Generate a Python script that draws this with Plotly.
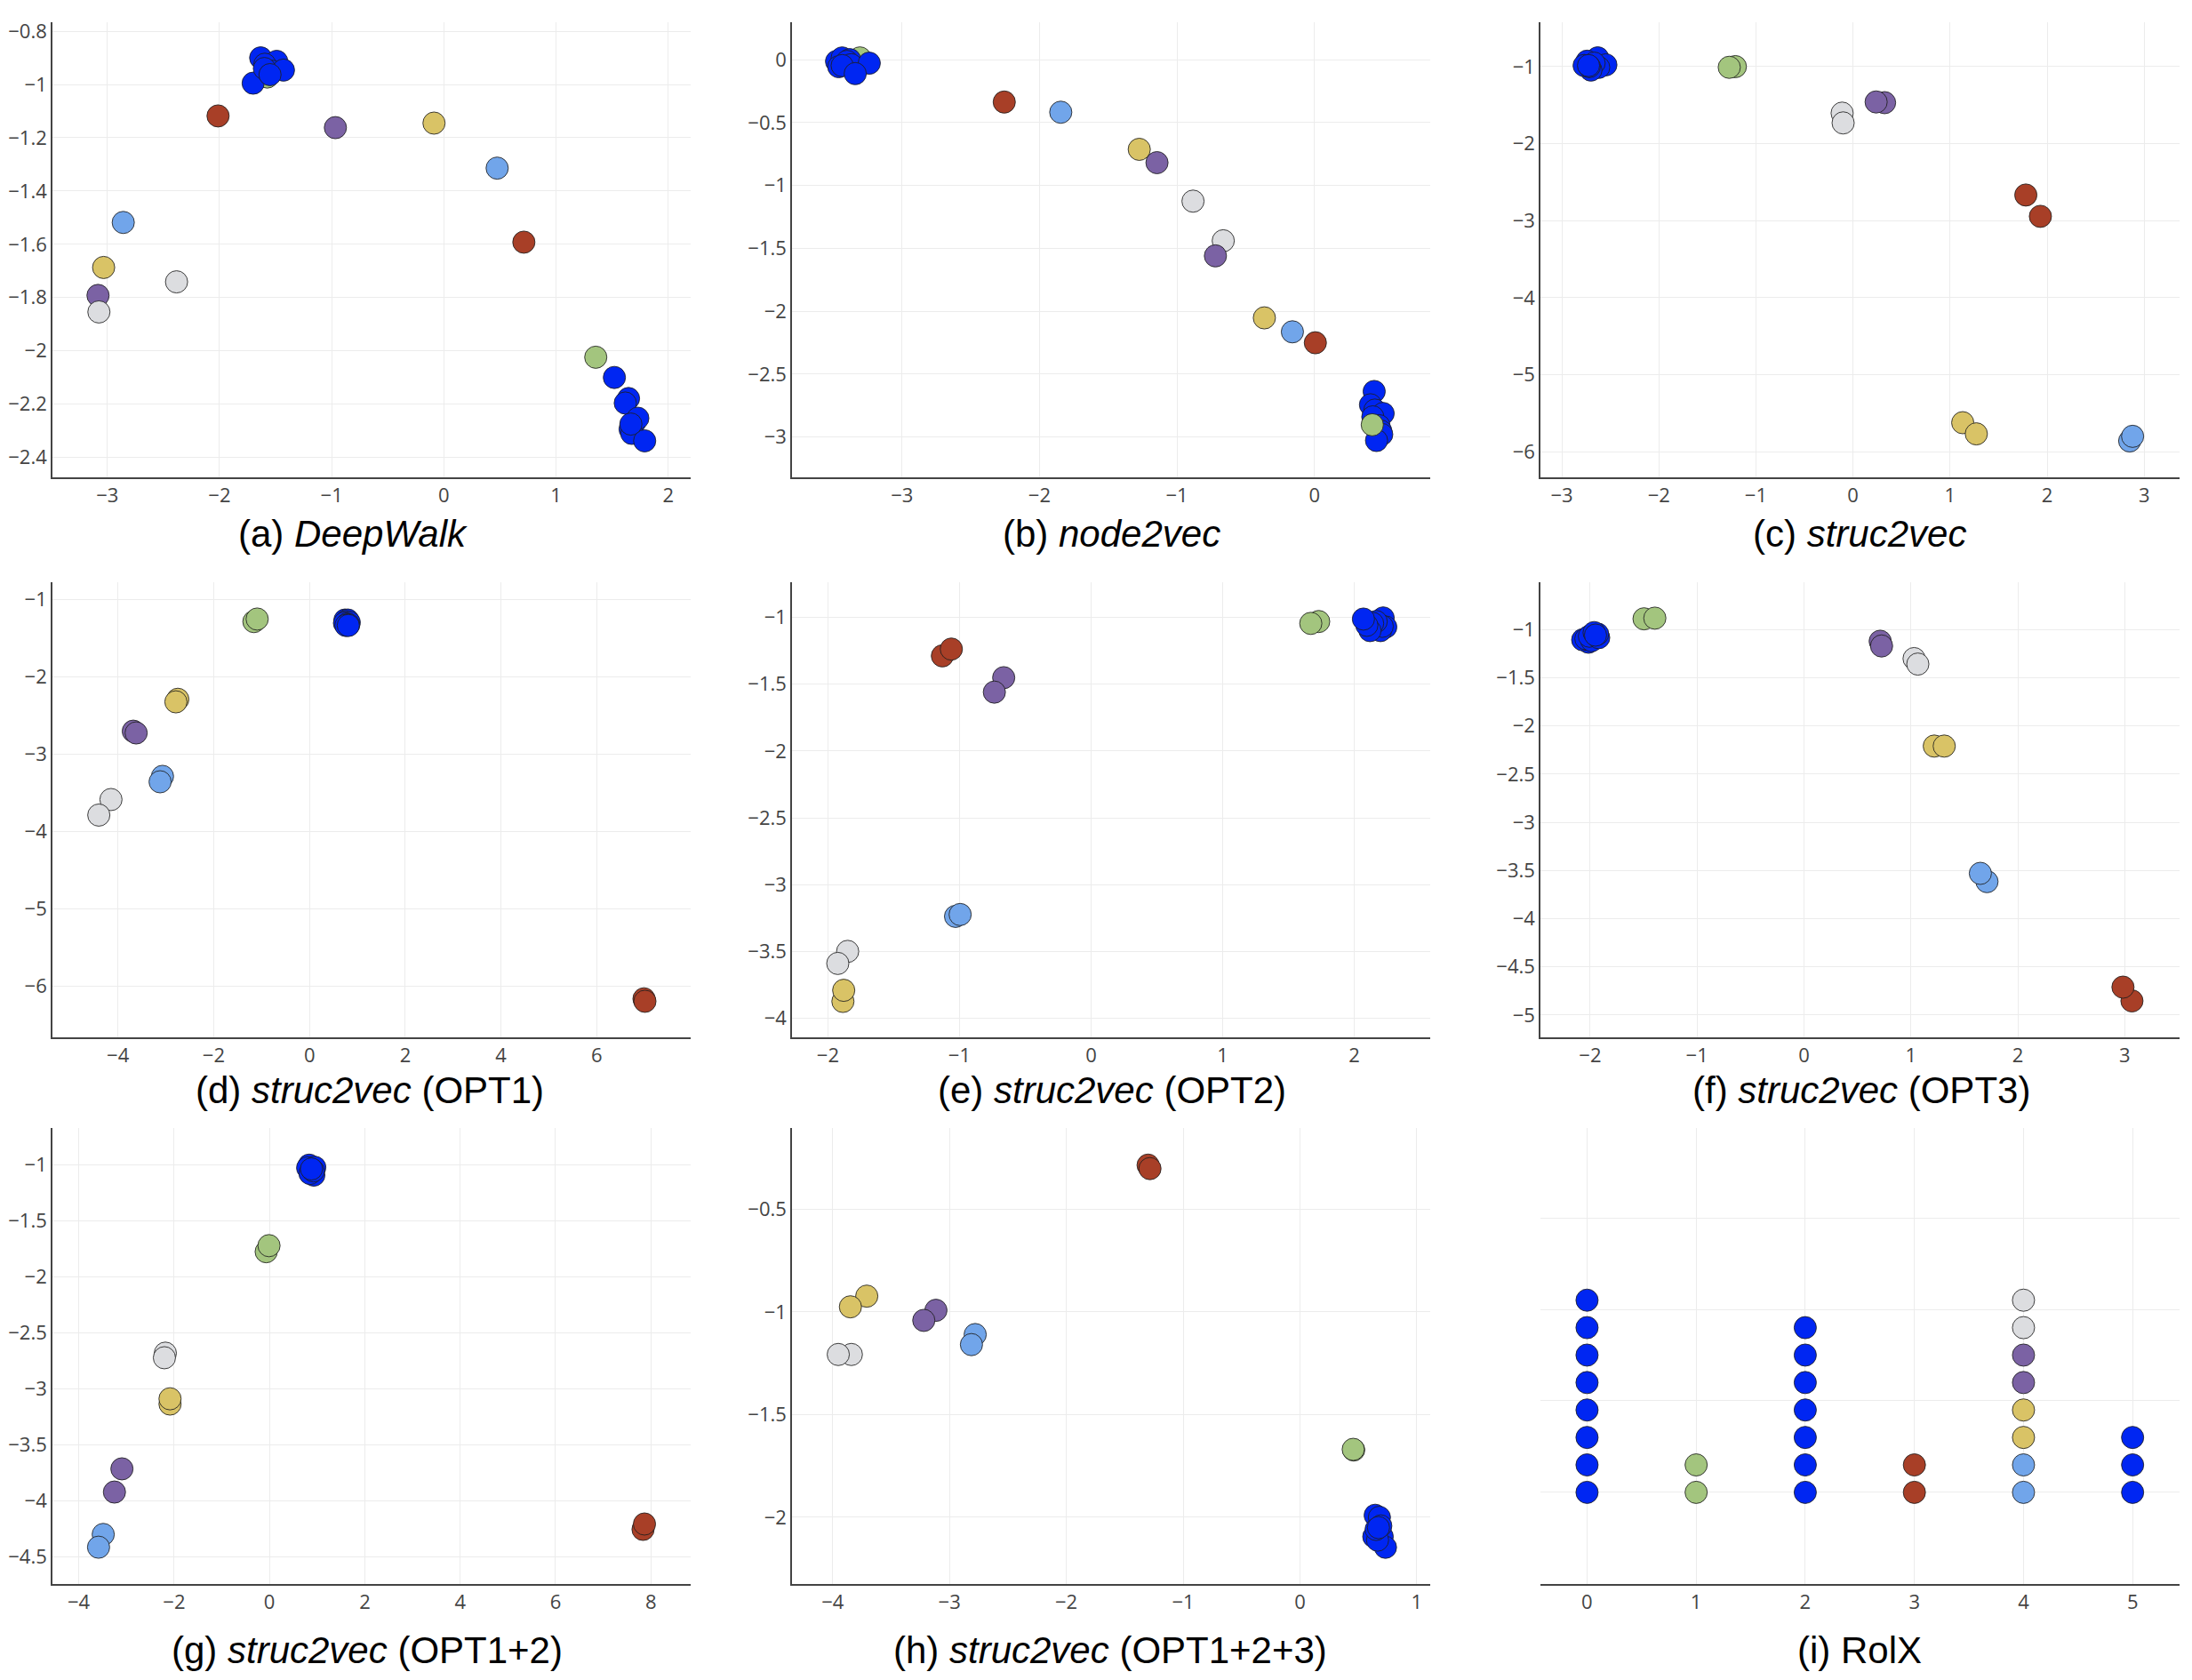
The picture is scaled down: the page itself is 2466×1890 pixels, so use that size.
import plotly.graph_objects as go

# ---------------- data ----------------
COLORS = {"B": "#0026f2", "G": "#a3c57e", "R": "#a83f27", "P": "#7b62a4",
          "Y": "#d9c366", "L": "#71a5ea", "W": "#dcdde0"}

# (a) DeepWalk
A_X = [-1.575, -1.70, -1.633, -1.49, -1.596, -1.56, -1.53, -1.43, -1.60, -1.55,
       -2.013, 0.713, -0.967, -3.083, -0.088, -3.033, 0.475, -2.858, -2.383, -3.075,
       1.354,
       1.52, 1.646, 1.617, 1.66, 1.70, 1.675, 1.79, 1.729, 1.667]
A_Y = [-0.972, -0.995, -0.90, -0.913, -0.924, -0.955, -0.95, -0.946, -0.94, -0.963,
       -1.118, -1.592, -1.162, -1.792, -1.145, -1.687, -1.314, -1.518, -1.741, -1.854,
       -2.024,
       -2.10, -2.179, -2.196, -2.294, -2.27, -2.31, -2.338, -2.253, -2.275]
A_C = ["G", "B", "B", "B", "B", "B", "B", "B", "B", "B",
       "R", "R", "P", "P", "Y", "Y", "L", "L", "W", "W",
       "G",
       "B", "B", "B", "B", "B", "B", "B", "B", "B"]

# (b) node2vec
B_X = [-3.306, -3.476, -3.435, -3.38, -3.40, -3.37, -3.238, -3.46, -3.435, -3.34,
       -2.256, -1.845, -1.274, -1.145, -0.883, -0.663, -0.72, -0.364, -0.16, 0.007,
       0.435, 0.408, 0.44, 0.50, 0.425, 0.47, 0.483, 0.49, 0.452, 0.421]
B_Y = [0.014, -0.014, 0.014, 0.0, -0.014, -0.04, -0.028, -0.056, -0.047, -0.111,
       -0.337, -0.418, -0.713, -0.819, -1.125, -1.44, -1.56, -2.053, -2.164, -2.251,
       -2.638, -2.744, -2.786, -2.813, -2.84, -2.91, -2.953, -2.98, -3.028, -2.903]
B_C = ["G", "B", "B", "B", "B", "B", "B", "B", "B", "B",
       "R", "L", "Y", "P", "W", "W", "P", "Y", "L", "R",
       "B", "B", "B", "B", "B", "B", "B", "B", "B", "G"]

# (c) struc2vec
C_X = [-2.63, -2.546, -2.62, -2.74, -2.667, -2.70, -2.77, -2.716, -2.725,
       -1.212, -1.275, 0.325, 0.238, -0.112, -0.102, 1.78, 1.93, 1.13, 1.27, 2.85, 2.88]
C_Y = [-0.886, -0.977, -1.01, -0.93, -0.955, -1.045, -0.986, -1.0, -0.986,
       -1.0, -1.009, -1.468, -1.459, -1.604, -1.731, -2.667, -2.944, -5.623, -5.768, -5.86, -5.80]
C_C = ["B"] * 9 + ["G", "G", "P", "P", "W", "W", "R", "R", "Y", "Y", "L", "L"]

# (d) struc2vec (OPT1)
D_X = [-1.161, -1.093,
       0.74, 0.80, 0.76, 0.83, 0.73, 0.79, 0.82, 0.76, 0.81,
       -2.75, -2.79, -3.68, -3.62, -3.07, -3.12, -4.146, -4.40, 6.985, 7.005]
D_Y = [-1.29, -1.257,
       -1.27, -1.27, -1.29, -1.30, -1.31, -1.32, -1.33, -1.34, -1.34,
       -2.294, -2.327, -2.706, -2.729, -3.29, -3.36, -3.589, -3.79, -6.164, -6.196]
D_C = ["G", "G"] + ["B"] * 9 + ["Y", "Y", "P", "P", "L", "L", "W", "W", "R", "R"]

# (e) struc2vec (OPT2)
E_X = [1.73, 1.67,
       2.22, 2.24, 2.20, 2.213, 2.167, 2.14, 2.12, 2.096, 2.07,
       -1.13, -1.062, -0.664, -0.735, -1.03, -0.995, -1.85, -1.925, -1.886, -1.88]
E_Y = [-1.032, -1.046,
       -1.005, -1.073, -1.10, -1.068, -1.032, -1.046, -1.10, -1.06, -1.0135,
       -1.289, -1.238, -1.452, -1.56, -3.237, -3.223, -3.499, -3.589, -3.873, -3.79]
E_C = ["G", "G"] + ["B"] * 9 + ["R", "R", "P", "P", "L", "L", "W", "W", "Y", "Y"]

# (f) struc2vec (OPT3)
F_X = [-2.016, -2.07, -2.04, -1.985, -2.007, -1.92, -1.93, -1.963, -1.95,
       -1.496, -1.395, 0.713, 0.726, 1.03, 1.065, 1.219, 1.312, 1.712, 1.65, 3.068, 2.984]
F_Y = [-1.13, -1.105, -1.094, -1.113, -1.068, -1.083, -1.045, -1.03, -1.056,
       -0.887, -0.88, -1.12, -1.169, -1.30, -1.357, -2.208, -2.208, -3.615, -3.529, -4.853, -4.71]
F_C = ["B"] * 9 + ["G", "G", "P", "P", "W", "W", "Y", "Y", "L", "L", "R", "R"]

# (g) struc2vec (OPT1+2)
G_X = [0.833, 0.80, 0.95, 0.87, 0.93, 0.85, 0.90, 0.92, 0.88,
       -0.069, -0.01, -2.184, -2.204, -2.086, -2.086, -3.095, -3.252, -3.487, -3.585, 7.835, 7.865]
G_Y = [-1.006, -1.03, -1.025, -1.064, -1.095, -1.08, -1.048, -1.057, -1.04,
       -1.778, -1.724, -2.683, -2.724, -3.137, -3.09, -3.715, -3.922, -4.30, -4.414, -4.255, -4.207]
G_C = ["B"] * 9 + ["G", "G", "W", "W", "Y", "Y", "P", "P", "L", "L", "R", "R"]

# (h) struc2vec (OPT1+2+3)
H_X = [-1.30, -1.284, -3.708, -3.848, -3.116, -3.22, -2.78, -2.812, -3.84, -3.952,
       0.46, 0.456,
       0.644, 0.68, 0.632, 0.704, 0.732, 0.664, 0.652, 0.692, 0.672]
H_Y = [-0.285, -0.302, -0.923, -0.975, -0.992, -1.041, -1.11, -1.159, -1.207, -1.207,
       -1.672, -1.669,
       -1.99, -2.0, -2.094, -2.094, -2.146, -2.111, -2.059, -2.042, -2.05]
H_C = ["R", "R", "Y", "Y", "P", "P", "L", "L", "W", "W", "G", "G"] + ["B"] * 9

# (i) RolX
I_X = [0, 0, 0, 0, 0, 0, 0, 0,
       1, 1,
       2, 2, 2, 2, 2, 2, 2,
       3, 3,
       4, 4, 4, 4, 4, 4, 4, 4,
       5, 5, 5]
I_Y = [0.0, 0.3, 0.6, 0.9, 1.2, 1.5, 1.8, 2.1,
       0.0, 0.3,
       0.0, 0.3, 0.6, 0.9, 1.2, 1.5, 1.8,
       0.0, 0.3,
       0.0, 0.3, 0.6, 0.9, 1.2, 1.5, 1.8, 2.1,
       0.0, 0.3, 0.6]
I_C = ["B"] * 8 + ["G", "G"] + ["B"] * 7 + ["R", "R"] + \
      ["L", "L", "Y", "Y", "P", "P", "W", "W"] + ["B"] * 3

CAPTIONS = ["(a) <i>DeepWalk</i>", "(b) <i>node2vec</i>", "(c) <i>struc2vec</i>",
            "(d) <i>struc2vec</i> (OPT1)", "(e) <i>struc2vec</i> (OPT2)", "(f) <i>struc2vec</i> (OPT3)",
            "(g) <i>struc2vec</i> (OPT1+2)", "(h) <i>struc2vec</i> (OPT1+2+3)", "(i) RolX"]

PANELS = [(A_X, A_Y, A_C), (B_X, B_Y, B_C), (C_X, C_Y, C_C),
          (D_X, D_Y, D_C), (E_X, E_Y, E_C), (F_X, F_Y, F_C),
          (G_X, G_Y, G_C), (H_X, H_Y, H_C), (I_X, I_Y, I_C)]

# ---------------- layout (pixels) ----------------
W, H = 2466, 1890
COLS = [(58.9, 777.0), (891.0, 1608.6), (1733.0, 2451.6)]
ROWS = [(19.0, 533.0), (650.6, 1164.9), (1267.2, 1781.5)]
CAP_Y = [596, 1224, 1856]
CAP_X = [397, 1250, 2092, 416, 1251, 2094, 413, 1249, 2092]

XR = [(-3.49, 2.2), (-3.80, 0.84), (-3.22, 3.36), (-5.37, 7.96), (-2.273, 2.575),
      (-2.465, 3.51), (-4.554, 8.834), (-4.348, 1.112), (-0.427, 5.427)]
YR = [(-2.476, -0.766), (-3.323, 0.298), (-6.336, -0.423), (-6.664, -0.776), (-4.143, -0.735),
      (-5.233, -0.503), (-4.741, -0.676), (-2.324, -0.105), (-1.0, 3.98)]
XD = [1, 1, 1, 2, 1, 1, 2, 1, 1]
YD = [0.2, 0.5, 1, 1, 0.5, 0.5, 0.5, 0.5, 1]

fig = go.Figure()
layout = dict(width=W, height=H, margin=dict(l=0, r=0, t=0, b=0),
              paper_bgcolor="white", plot_bgcolor="white", showlegend=False,
              annotations=[])

tickfont = dict(family="Open Sans", size=22, color="#444")
for k, (xs, ys, cs) in enumerate(PANELS):
    r, c = divmod(k, 3)
    sfx = "" if k == 0 else str(k + 1)
    fig.add_trace(go.Scatter(
        x=xs, y=ys, mode="markers", xaxis="x" + sfx, yaxis="y" + sfx,
        marker=dict(size=25, color=[COLORS[g] for g in cs],
                    line=dict(width=1, color="rgba(30,30,30,0.85)")),
        hoverinfo="skip"))
    x0, x1 = COLS[c]
    y0, y1 = ROWS[r]
    layout["xaxis" + sfx] = dict(
        domain=[x0 / W, x1 / W], anchor="y" + sfx, range=list(XR[k]),
        tickmode="linear", tick0=0, dtick=XD[k], showgrid=True, gridcolor="#ececec",
        gridwidth=1, zeroline=False, showline=True, linecolor="#444", linewidth=1.5,
        ticks="", tickfont=tickfont)
    layout["yaxis" + sfx] = dict(
        domain=[1 - y1 / H, 1 - y0 / H], anchor="x" + sfx, range=list(YR[k]),
        tickmode="linear", tick0=0, dtick=YD[k], showgrid=True, gridcolor="#ececec",
        gridwidth=1, zeroline=False, showline=(k != 8), linecolor="#444", linewidth=1.5,
        ticks="", tickfont=tickfont, showticklabels=(k != 8))
    layout["annotations"].append(dict(
        text=CAPTIONS[k], x=CAP_X[k] / W, y=1 - CAP_Y[r] / H, xref="paper", yref="paper",
        xanchor="center", yanchor="middle", showarrow=False,
        font=dict(family="Liberation Sans", size=42, color="black")))

fig.update_layout(**layout)
fig.write_html("out.html")
